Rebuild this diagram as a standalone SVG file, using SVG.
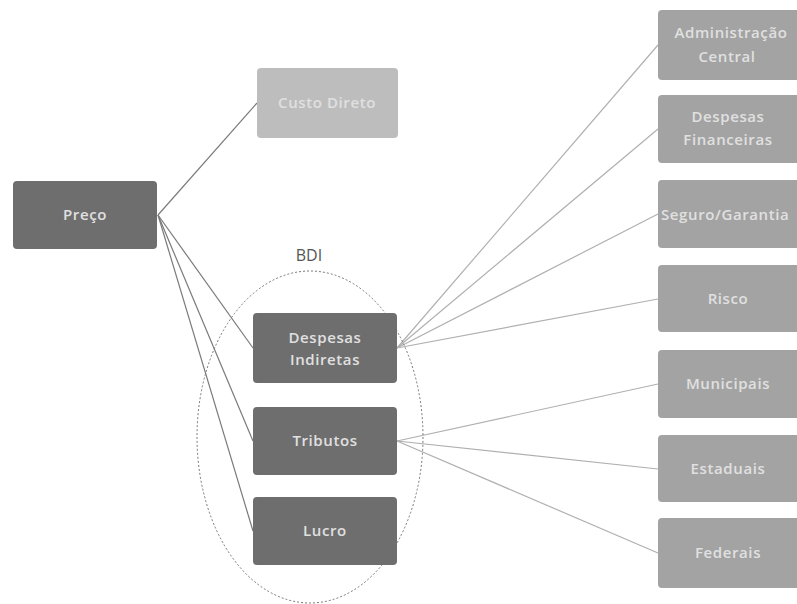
<svg xmlns="http://www.w3.org/2000/svg" width="797" height="604" viewBox="0 0 797 604">
<style>
.dark{fill:#6e6e6e}
.light{fill:#a3a3a3}
.pale{fill:#bdbdbd}
text{font-family:"Open Sans","Liberation Sans",sans-serif;font-size:15px;font-weight:600;letter-spacing:0.6px;fill:#e0e0e0;text-anchor:middle}
.c1{stroke:#7a7a7a;stroke-width:1.2;fill:none}
.c2{stroke:#b0b0b0;stroke-width:1.2;fill:none}
</style>
<rect width="797" height="604" fill="#ffffff"/>
<g id="connectors">
<line class="c1" x1="158" y1="215" x2="257" y2="103"/>
<line class="c1" x1="158" y1="215" x2="253" y2="348"/>
<line class="c1" x1="158" y1="215" x2="253" y2="441"/>
<line class="c1" x1="158" y1="215" x2="253" y2="531"/>
<line class="c2" x1="397" y1="348" x2="658" y2="45"/>
<line class="c2" x1="397" y1="348" x2="658" y2="129"/>
<line class="c2" x1="397" y1="348" x2="658" y2="214"/>
<line class="c2" x1="397" y1="348" x2="658" y2="299"/>
<line class="c2" x1="397" y1="441" x2="658" y2="384"/>
<line class="c2" x1="397" y1="441" x2="658" y2="469"/>
<line class="c2" x1="397" y1="441" x2="658" y2="553"/>
</g>
<g id="bdi">
<ellipse cx="310" cy="437" rx="113" ry="166" fill="none" stroke="#777" stroke-width="1" stroke-dasharray="2,2"/>
<text x="309" y="261" style="font-size:16px;font-weight:400;letter-spacing:0;fill:#555">BDI</text>
</g>
<g id="preco"><rect class="dark" x="13" y="181" width="144" height="68" rx="4"/><text x="85" y="220">Preço</text></g>
<g id="custo"><rect class="pale" x="257" y="68" width="141" height="70" rx="4"/><text x="327" y="108">Custo Direto</text></g>
<g id="despesas"><rect class="dark" x="253" y="313" width="144" height="70" rx="4"/><text x="325" y="343">Despesas</text><text x="325" y="365">Indiretas</text></g>
<g id="tributos"><rect class="dark" x="253" y="407" width="144" height="68" rx="4"/><text x="325" y="446">Tributos</text></g>
<g id="lucro"><rect class="dark" x="253" y="497" width="144" height="68" rx="4"/><text x="325" y="536">Lucro</text></g>
<g id="admin"><rect class="light" x="658" y="10" width="142" height="70" rx="4"/><text x="731" y="38">Administração</text><text x="727" y="62">Central</text></g>
<g id="financeiras"><rect class="light" x="658" y="95" width="142" height="68" rx="4"/><text x="728" y="122">Despesas</text><text x="728" y="145">Financeiras</text></g>
<g id="seguro"><rect class="light" x="658" y="180" width="142" height="68" rx="4"/><text x="661" y="220" style="text-anchor:start">Seguro/Garantia</text></g>
<g id="risco"><rect class="light" x="658" y="265" width="142" height="67" rx="4"/><text x="728" y="304">Risco</text></g>
<g id="municipais"><rect class="light" x="658" y="350" width="142" height="68" rx="4"/><text x="728" y="389">Municipais</text></g>
<g id="estaduais"><rect class="light" x="658" y="435" width="142" height="67" rx="4"/><text x="728" y="474">Estaduais</text></g>
<g id="federais"><rect class="light" x="658" y="518" width="142" height="70" rx="4"/><text x="728" y="558">Federais</text></g>
</svg>
